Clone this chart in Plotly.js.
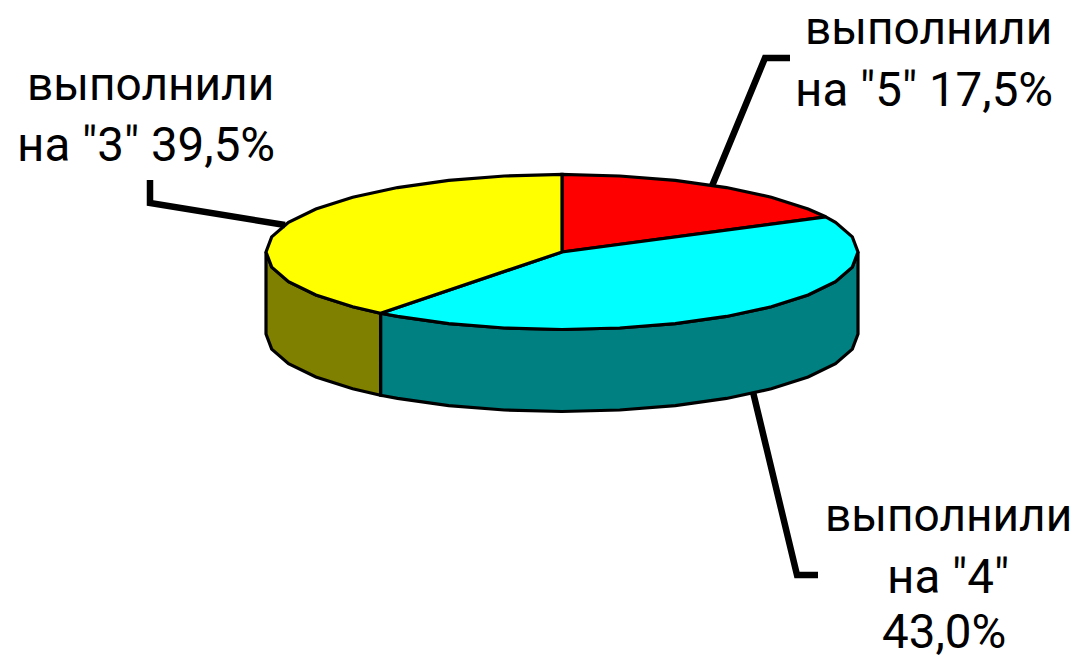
<!DOCTYPE html>
<html><head><meta charset="utf-8">
<script src="https://cdn.plot.ly/plotly-3.0.1.min.js"></script>
<style>html,body{margin:0;padding:0;background:#fff}</style></head>
<body><div id="chart" style="width:1076px;height:660px"></div>
<script>
const grades = ["5", "4", "3"];
const shares = [17.5, 43.0, 39.5];
const topColors = ["#ff0000", "#00ffff", "#ffff00"];
const sideColors = ["#800000", "#008080", "#808000"];
const labelWord = "выполнили";
const labelLines = [
  ['на "5" 17,5%'],
  ['на "4"', '43,0%'],
  ['на "3" 39,5%']
];
const labelAnchors = [
  [[928, 28], [924, 90]],
  [[948, 515], [948, 577], [944, 632]],
  [[150, 84], [146, 145]]
];
const leaders = [
  {x: [712, 765, 790], y: [186, 58, 58]},
  {x: [753, 797, 818], y: [392, 575, 575]},
  {x: [285, 150, 150], y: [225, 203, 180]}
];
const cx = 562, cy = 252, rx = 296, ry = 77.5, depth = 82, stepDeg = 11.25;

function arc(a0, a1, dy) {
  const as = [a0];
  for (let a = Math.ceil(a0 / stepDeg + 1e-6) * stepDeg; a < a1 - 1e-6; a += stepDeg) as.push(a);
  as.push(a1);
  return {
    x: as.map(a => cx + rx * Math.sin(a * Math.PI / 180)),
    y: as.map(a => cy - ry * Math.cos(a * Math.PI / 180) + dy)
  };
}
function poly(x, y, color) {
  return {type: "scatter", mode: "lines", x, y, fill: "toself", fillcolor: color,
    line: {color: "#000", width: 3.2, shape: "linear"}, hoverinfo: "skip", showlegend: false};
}
const traces = [];
let acc = 0;
const spans = shares.map(s => { const a0 = acc * 3.6; acc += s; return [a0, acc * 3.6]; });
// visible rim: the front half of the ellipse, angles 90..270
spans.forEach((sp, i) => {
  const a0 = Math.max(sp[0], 90), a1 = Math.min(sp[1], 270);
  if (a1 <= a0) return;
  const t = arc(a0, a1, 0), b = arc(a0, a1, depth);
  traces.push(poly(t.x.concat(b.x.slice().reverse(), [t.x[0]]),
                   t.y.concat(b.y.slice().reverse(), [t.y[0]]), sideColors[i]));
});
spans.forEach((sp, i) => {
  const e = arc(sp[0], sp[1], 0);
  traces.push(poly([cx].concat(e.x, [cx]), [cy].concat(e.y, [cy]), topColors[i]));
});
leaders.forEach(l => traces.push({type: "scatter", mode: "lines", x: l.x, y: l.y,
  line: {color: "#000", width: 6.5}, hoverinfo: "skip", showlegend: false}));

const annotations = [];
grades.forEach((g, i) => {
  [labelWord].concat(labelLines[i]).forEach((txt, k) => {
    annotations.push({x: labelAnchors[i][k][0], y: labelAnchors[i][k][1], text: txt,
      showarrow: false, xanchor: "center", yanchor: "middle",
      font: {family: "Roboto, sans-serif", size: k === 0 ? 46 : 47.5, color: "#000"}});
  });
});
const hidden = {visible: false, fixedrange: true};
Plotly.newPlot("chart", traces, {
  width: 1076, height: 660, margin: {l: 0, r: 0, t: 0, b: 0},
  paper_bgcolor: "#fff", plot_bgcolor: "#fff", showlegend: false,
  xaxis: Object.assign({range: [0, 1076]}, hidden),
  yaxis: Object.assign({range: [660, 0]}, hidden),
  annotations
}, {displayModeBar: false, staticPlot: true});
</script></body></html>
